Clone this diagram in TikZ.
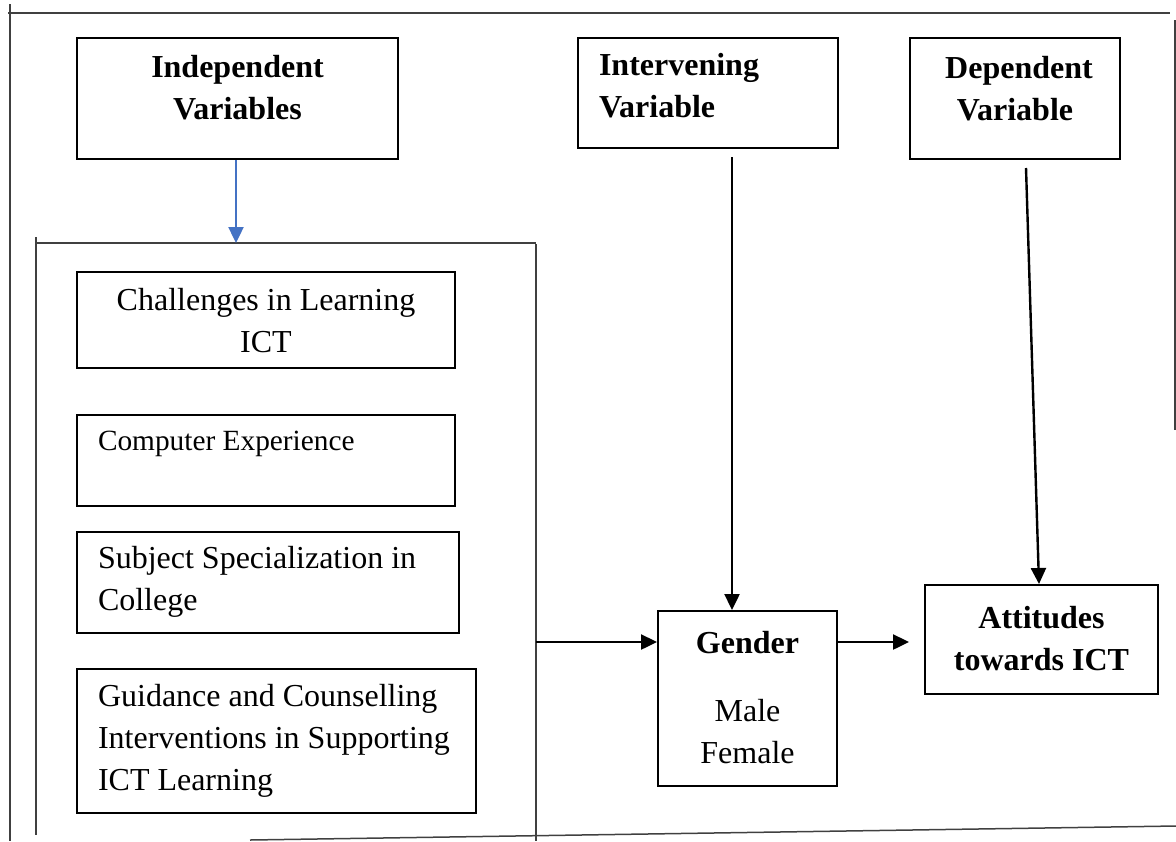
\documentclass[tikz,border=0pt]{standalone}
\usepackage{fontspec}
\setmainfont{Liberation Serif}
\usetikzlibrary{arrows.meta}
\definecolor{wordblue}{HTML}{4472C4}
% box contents: width, height, first baseline from top, text
\newcommand{\cellc}[4]{\parbox[c][#2][t]{#1}{\centering\rule{0pt}{#3}#4}}
\newcommand{\celll}[4]{\parbox[c][#2][t]{#1}{\raggedright\leftskip=10.5pt\rule{0pt}{#3}#4}}
\tikzset{
  varbox/.style={draw, line width=1pt, inner sep=0pt, anchor=north west, font=\fontsize{16}{21}\selectfont},
  link/.style={line width=1.2pt, -{Triangle[length=8pt,width=7.5pt]}},
  frame/.style={black!75, line width=0.75pt},
}
\begin{document}
\begin{tikzpicture}[x=0.5pt,y=-0.5pt]
        \useasboundingbox (0,0) rectangle (1176,841);
        % outer frame
        \draw[frame] (8,13) -- (1170,13);
        \draw[frame] (10,4) -- (10,841);
        \draw[frame] (1175,20) -- (1175,430);
        \draw[frame] (250,840) -- (1176,826);
        % inner frame round the independent variables
        \draw[frame] (35,243) -- (536,243);
        \draw[frame] (36,237) -- (36,835);
        \draw[frame] (536,244) -- (536,841);

        % headings
        \node[varbox] (indep) at (76,37) {\cellc{160.5pt}{60.5pt}{19.5pt}{\bfseries Independent\\Variables}};
        \node[varbox] (interv) at (577,37) {\celll{130pt}{55pt}{18.5pt}{\bfseries Intervening\\Variable}};
        \node[varbox] (dep) at (909,37) {\cellc{105pt}{60.5pt}{20pt}{\bfseries\hspace*{4pt}Dependent\\Variable}};

        % independent variables
        \node[varbox] (chal) at (76,271) {\cellc{189pt}{48pt}{19pt}{Challenges in Learning\\ICT}};
        \node[varbox] (comp) at (76,414) {\celll{189pt}{45.5pt}{17.5pt}{\fontsize{14.67}{18}\selectfont Computer Experience}};
        \node[varbox] (subj) at (76,531) {\celll{191pt}{50.5pt}{18pt}{Subject Specialization in\\College}};
        \node[varbox] (guid) at (76,668) {\celll{199.5pt}{72pt}{18.5pt}{Guidance and Counselling\\Interventions in Supporting\\ICT Learning}};

        % intervening and dependent
        \node[varbox] (gend) at (657,610) {\cellc{89.5pt}{87.5pt}{21pt}{\textbf{Gender}\\[13pt]Male\\Female}};
        \node[varbox] (att) at (924,584) {\cellc{116.5pt}{54.5pt}{21.75pt}{\bfseries Attitudes\\towards ICT}};

        % connectors
        \coordinate (inframe) at (235,243);
        \coordinate (ivtail) at (732,157);
        \coordinate (dvtail) at (1026,168);
        \coordinate (inout) at (536,642);
        \draw[link, wordblue] ([xshift=-0.75pt]indep.south) -- ([xshift=-0.75pt]indep.south |- inframe);
        \draw[link] (ivtail) -- (ivtail |- gend.north);
        \draw[link] (dvtail) -- ([xshift=-1.25pt]att.north);
        \draw[link] (inout) -- (inout -| gend.west);
        \draw[link, shorten >=7.5pt] (gend.east |- inout) -- (att.west |- inout);
\end{tikzpicture}
\end{document}
